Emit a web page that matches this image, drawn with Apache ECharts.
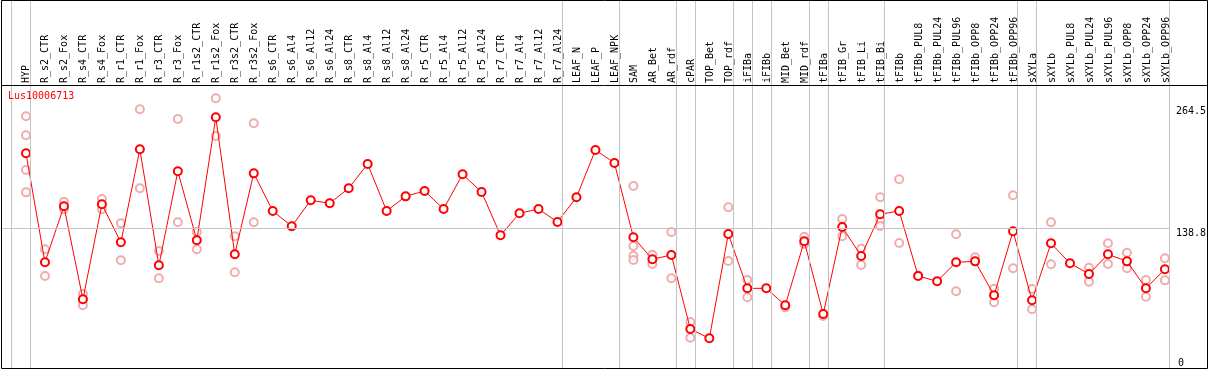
<!DOCTYPE html>
<html><head><meta charset="utf-8">
<script src="https://cdn.jsdelivr.net/npm/echarts@6/dist/echarts.min.js"></script>
<style>html,body{margin:0;padding:0;background:#fff}#c{width:1209px;height:370px}</style>
</head><body><div id="c"></div>
<script>
const chartTitle = 'Lus10006713';
const categories = ['HYP','R_s2_CTR','R_s2_Fox','R_s4_CTR','R_s4_Fox','R_r1_CTR','R_r1_Fox','R_r3_CTR','R_r3_Fox','R_r1s2_CTR','R_r1s2_Fox','R_r3s2_CTR','R_r3s2_Fox','R_s6_CTR','R_s6_Al4','R_s6_Al12','R_s6_Al24','R_s8_CTR','R_s8_Al4','R_s8_Al12','R_s8_Al24','R_r5_CTR','R_r5_Al4','R_r5_Al12','R_r5_Al24','R_r7_CTR','R_r7_Al4','R_r7_Al12','R_r7_Al24','LEAF_N','LEAF_P','LEAF_NPK','SAM','AR_Bet','AR_rdf','cPAR','TOP_Bet','TOP_rdf','iFIBa','iFIBb','MID_Bet','MID_rdf','tFIBa','tFIB_Gr','tFIB_Li','tFIB_Bi','tFIBb','tFIBb_PUL8','tFIBb_PUL24','tFIBb_PUL96','tFIBb_OPP8','tFIBb_OPP24','tFIBb_OPP96','sXYLa','sXYLb','sXYLb_PUL8','sXYLb_PUL24','sXYLb_PUL96','sXYLb_OPP8','sXYLb_OPP24','sXYLb_OPP96'];
const means = [216.0,104.1,161.6,66.2,163.6,124.6,220.1,101.0,197.5,126.7,252.9,112.3,195.4,156.8,141.1,167.7,164.7,180.1,205.0,156.8,171.8,177.3,158.8,194.4,176.3,131.8,154.4,158.8,145.5,170.8,219.4,206.0,129.8,107.2,111.6,35.7,26.1,133.2,77.4,77.4,60.0,125.7,51.1,140.3,110.6,153.4,156.8,90.1,84.6,104.1,105.1,70.3,135.9,65.1,123.6,103.1,92.1,112.3,105.1,77.4,96.9];
const replicates = [
  [253.9,234.4,198.8,175.9],[117.5,90.1],[166.3,158.5],[71.6,60.0],[169.1,158.5],[144.1,106.2],[261.1,180.1],[115.7,87.7],[251.2,145.2],[135.2,117.5],[272.4,233.7],[130.8,93.9],[246.8,145.2],
  [],[],[],[],[],[],[],[],[],[],[],[],[],[],[],[],[],[],[],
  [182.4,120.8,110.9,106.5],[111.9,102.4],[135.2,87.7],[42.9,26.8],[],[160.6,105.5],[86.0,68.2],[],[57.9],[130.4,122.9],[49.0],[148.6,130.8],[118.1,101.3],[170.8,147.5,141.4],[189.3,123.9],
  [90.5],[],[132.9,74.4],[109.3],[77.0,63.1],[172.9,98.0],[76.7,55.9],[145.2,102.1],[],[98.6,84.2],[123.6,102.4],[114.0,98.0],[86.0,68.8],[108.2,85.6]
];
const groupEnds = [-1,0,28,31,34,35,37,38,39,41,42,45,52,53,60];
const refValue = 138.8;
const yLabelValues = [138.8, 264.5];
const yZeroLabel = [0];

const FONT = 'DejaVu Sans Mono';
const X_MIN = -24/19, X_MAX = X_MIN + 1169/19;
const Y_MIN = -5.37, Y_MAX = 373.27;
const SEP_OFFSET = 4.5/19;

const meanData = means.map((v,i)=>[i,v]);
const repData = [];
replicates.forEach((arr,i)=>arr.forEach(v=>repData.push([i,v])));
const sepLines = groupEnds.map(i=>({xAxis:i+SEP_OFFSET}));
sepLines.push({yAxis:refValue});

const chart = echarts.init(document.getElementById('c'), null, {renderer:'canvas'});
const axisFont = {fontFamily:FONT,fontSize:10,color:'#000'};
chart.setOption({
  animation:false,
  title:{text:chartTitle,left:8,top:91,padding:0,textStyle:{fontFamily:FONT,fontSize:10,fontWeight:'normal',color:'#ff0000'}},
  grid:[{left:2,right:38,top:0,bottom:1},{left:16.5,right:33.5,top:0,height:85}],
  xAxis:[
    {type:'value',gridIndex:0,min:X_MIN,max:X_MAX,show:false},
    {type:'category',gridIndex:1,data:categories,position:'bottom',axisLine:{show:false},axisTick:{show:false},splitLine:{show:false},
     axisLabel:Object.assign({inside:true,rotate:90,margin:2,interval:0},axisFont)}
  ],
  yAxis:[
    {type:'value',gridIndex:0,position:'right',min:Y_MIN,max:Y_MAX,axisLine:{show:false},axisTick:{show:false},splitLine:{show:false},
     axisLabel:Object.assign({customValues:yLabelValues,verticalAlign:'top',align:'left',margin:6,formatter:v=>String(v)},axisFont)},
    {type:'value',gridIndex:0,position:'right',min:Y_MIN,max:Y_MAX,axisLine:{show:false},axisTick:{show:false},splitLine:{show:false},
     axisLabel:Object.assign({customValues:yZeroLabel,verticalAlign:'middle',align:'left',margin:8,formatter:v=>String(v)},axisFont)},
    {type:'value',gridIndex:1,show:false}
  ],
  series:[
    {type:'line',xAxisIndex:0,yAxisIndex:0,data:[],z:1,silent:true,
     markLine:{silent:true,symbol:['none','none'],label:{show:false},lineStyle:{color:'#c4c4c4',width:1,type:'solid'},emphasis:{disabled:true},data:sepLines}},
    {type:'scatter',xAxisIndex:0,yAxisIndex:0,data:repData,z:2,symbol:'emptyCircle',symbolSize:8,
     itemStyle:{color:'#eb9898',borderColor:'#eb9898',borderWidth:1.1}},
    {type:'line',xAxisIndex:0,yAxisIndex:0,data:meanData,z:3,symbol:'emptyCircle',symbolSize:8,
     lineStyle:{color:'#ff0000',width:1},itemStyle:{color:'#ff0000',borderColor:'#ff0000',borderWidth:1.4}}
  ],
  graphic:[
    {type:'rect',shape:{x:1.5,y:0.5,width:1206,height:368},style:{fill:null,stroke:'#000',lineWidth:1},z:100,silent:true},
    {type:'line',shape:{x1:1.5,y1:85.5,x2:1207.5,y2:85.5},style:{stroke:'#000',lineWidth:1},z:100,silent:true}
  ]
});
</script></body></html>
